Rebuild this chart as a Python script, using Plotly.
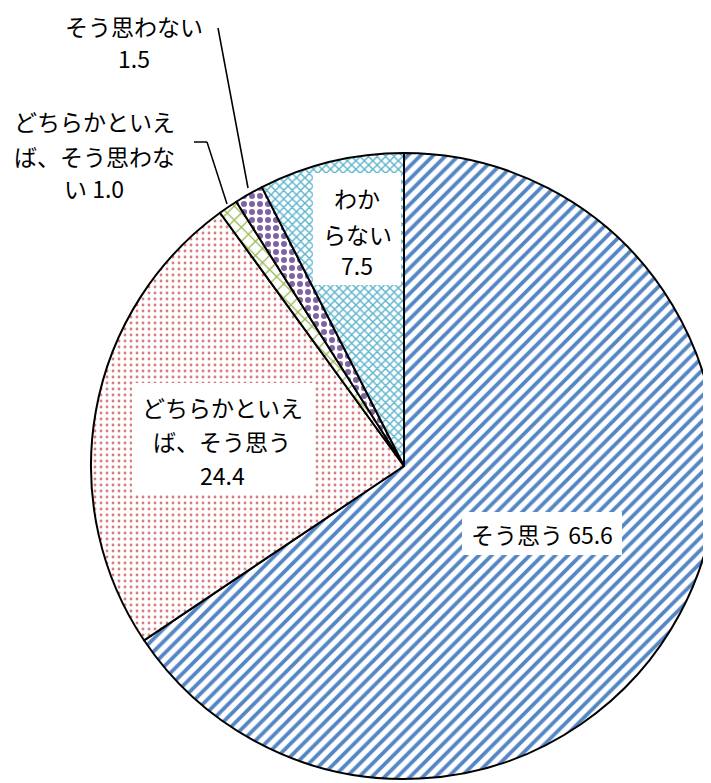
import plotly.graph_objects as go

labels = ["そう思う", "どちらかといえば、そう思う", "どちらかといえば、そう思わない", "そう思わない", "わからない"]
values = [65.6, 24.4, 1.0, 1.5, 7.5]
fg_colors = ["#5586C4", "#DB7B7C", "#9BBB59", "#8064A2", "#5BB4CC"]
shapes_pat = ["/", ".", "x", ".", "x"]
pat_sizes = [9, 6, 10, 8, 6]
pat_solid = [0.42, 0.18, 0.25, 0.45, 0.42]

W, H = 711, 783
OFF = 8  # page body margin offset
FONT = "Noto Sans CJK JP"
FS = 23

def P(x, y):
    # screen pixel -> paper coords
    return (x - OFF) / W, 1 - (y - OFF) / H

# pie: screen center (404, 466), radius 313
cx, cy, r = 404 - OFF, 466 - OFF, 313
fig = go.Figure()
fig.add_trace(go.Pie(
    labels=labels, values=values, sort=False, direction="clockwise", rotation=0,
    textinfo="none", hoverinfo="label+value",
    marker=dict(
        colors=["white"] * 5,
        line=dict(color="black", width=2),
        pattern=dict(shape=shapes_pat, fgcolor=fg_colors, bgcolor=["white"] * 5,
                     size=pat_sizes, solidity=pat_solid, fillmode="replace"),
    ),
    domain=dict(x=[(cx - r) / W, min(1.0, (cx + r) / W)],
                y=[1 - (cy + r) / H, 1 - (cy - r) / H]),
    showlegend=False,
))

# white label boxes (screen px)
boxes = [(313, 173, 401, 285), (132, 383, 313, 493), (462, 512, 622, 555)]
for x0, y0, x1, y1 in boxes:
    a0, b0 = P(x0, y0)
    a1, b1 = P(x1, y1)
    fig.add_shape(type="rect", xref="paper", yref="paper", x0=a0, y0=b0, x1=a1, y1=b1,
                  fillcolor="white", line=dict(width=0), layer="above")

text_lines = [
    ("わか", 357, 198), ("らない", 357, 234), (f"{values[4]:.1f}", 357, 265),
    ("どちらかといえ", 222, 407), ("ば、そう思う", 222, 441), (f"{values[1]:.1f}", 222, 475),
    ("そう思う " + f"{values[0]:.1f}", 542, 534),
    ("そう思わない", 134, 26), (f"{values[3]:.1f}", 134, 58),
    ("どちらかといえ", 94, 121), ("ば、そう思わな", 94, 156), ("い " + f"{values[2]:.1f}", 94, 188),
]
for text, x, y in text_lines:
    ax, ay = P(x, y)
    fig.add_annotation(
        text=text, x=ax, y=ay, xref="paper", yref="paper", showarrow=False,
        xanchor="center", yanchor="middle", align="center",
        font=dict(family=FONT, size=FS, color="black"),
    )

lines = [
    [(218, 28), (248, 188)],
    [(194, 142), (207, 142), (227, 204)],
]
for pts in lines:
    for (x0, y0), (x1, y1) in zip(pts[:-1], pts[1:]):
        a0, b0 = P(x0, y0)
        a1, b1 = P(x1, y1)
        fig.add_shape(type="line", xref="paper", yref="paper", x0=a0, y0=b0, x1=a1, y1=b1,
                      line=dict(color="black", width=1.5))

fig.update_layout(width=W, height=H, margin=dict(l=0, r=0, t=0, b=0),
                  paper_bgcolor="white", plot_bgcolor="white")
fig.write_html("out.html")
